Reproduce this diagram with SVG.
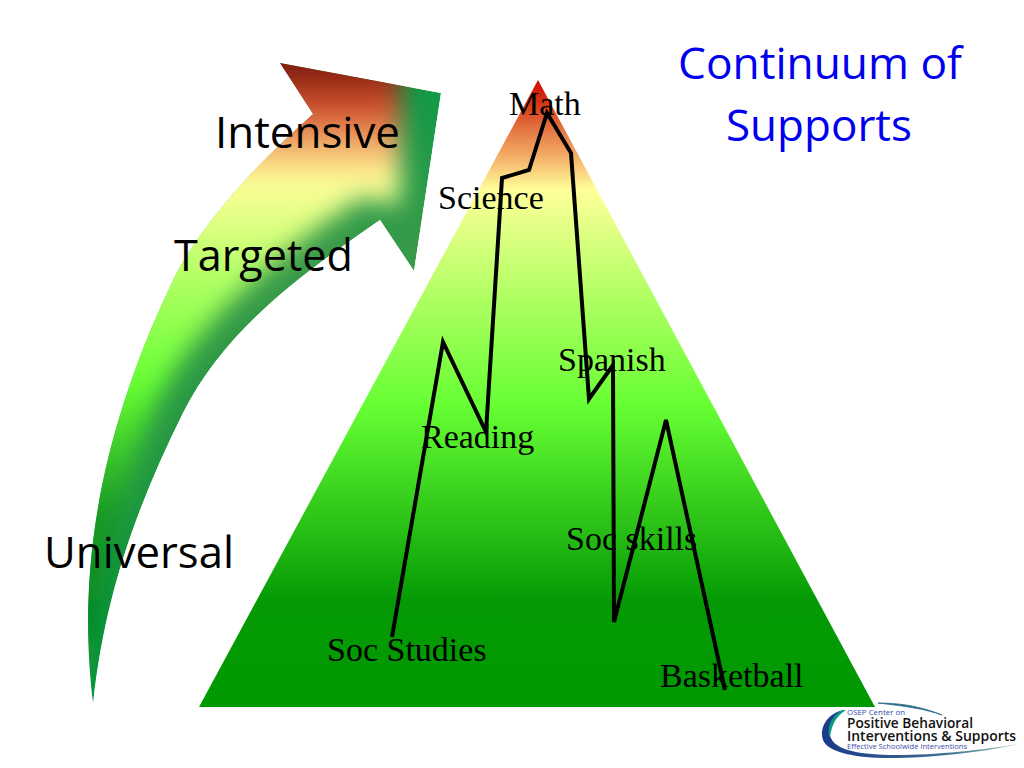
<svg xmlns="http://www.w3.org/2000/svg" width="1024" height="768" viewBox="0 0 1024 768">
<style>
.cal{font-family:"Open Sans","Noto Sans",sans-serif;fill:#000;font-size:43px}
.blue{fill:#0000ee;font-size:43px;font-family:"Open Sans","Noto Sans",sans-serif}
.lab{font-family:"Liberation Serif",serif;font-size:34px;fill:#000}
.logo{font-family:"Open Sans","Noto Sans",sans-serif}
</style>
<defs>
<linearGradient id="pyr" gradientUnits="userSpaceOnUse" x1="0" y1="80" x2="0" y2="707">
<stop offset="0" stop-color="#cc0a00"/>
<stop offset="0.04" stop-color="#d63a1a"/>
<stop offset="0.075" stop-color="#e2703f"/>
<stop offset="0.12" stop-color="#f3ab66"/>
<stop offset="0.175" stop-color="#ffff99"/>
<stop offset="0.30" stop-color="#c4ff70"/>
<stop offset="0.52" stop-color="#66ff33"/>
<stop offset="0.83" stop-color="#059a05"/>
<stop offset="1" stop-color="#009900"/>
</linearGradient>
<linearGradient id="arr" gradientUnits="userSpaceOnUse" x1="0" y1="63" x2="0" y2="704">
<stop offset="0" stop-color="#7a1608"/>
<stop offset="0.08" stop-color="#d85a34"/>
<stop offset="0.125" stop-color="#f0a868"/>
<stop offset="0.185" stop-color="#ffff99"/>
<stop offset="0.33" stop-color="#b4ff66"/>
<stop offset="0.50" stop-color="#66ff33"/>
<stop offset="0.70" stop-color="#189a22"/>
<stop offset="0.85" stop-color="#058a20"/>
<stop offset="1" stop-color="#0a9a40"/>
</linearGradient>
<linearGradient id="arrbase" gradientUnits="userSpaceOnUse" x1="0" y1="63" x2="0" y2="704">
<stop offset="0" stop-color="#0a9a48"/>
<stop offset="0.3" stop-color="#3a9a48"/>
<stop offset="1" stop-color="#0a9440"/>
</linearGradient>
<linearGradient id="swoosh" x1="0" y1="0" x2="1" y2="0">
<stop offset="0" stop-color="#1a3a8a"/>
<stop offset="0.6" stop-color="#3a6a90"/>
<stop offset="1" stop-color="#8ac0a0"/>
</linearGradient>
<filter id="soft" x="-30%" y="-30%" width="160%" height="160%"><feGaussianBlur stdDeviation="12"/></filter>
<path id="arrowShape" d="M93 704 C82 610 82 470 173 280 C200 225 255 165 313 114 L280 63 L441 93 L414 271 L380 220 C300 275 225 330 183 413 C140 500 105 590 93 704 Z"/>
<clipPath id="arrowClip"><use href="#arrowShape"/></clipPath>
</defs>
<rect width="1024" height="768" fill="#fff"/>
<g id="arrow">
<g clip-path="url(#arrowClip)">
<use href="#arrowShape" fill="url(#arrbase)"/>
<path filter="url(#soft)" fill="url(#arr)" d="M93 720 C30 600 30 470 130 270 C160 200 220 130 250 20 L402 20 L400 205 L362 198 C290 245 205 312 160 395 C122 480 95 590 93 720 Z"/>
</g>
</g>
<g id="pyramid">
<polygon points="538,80 875,707 199,707" fill="url(#pyr)"/>
</g>
<g id="connectors">
<polyline points="392,637 443,342 486,432 502,178 529,170 547,113 571,153 589,399 613,365 614,622 666,420 725,690" fill="none" stroke="#000" stroke-width="4"/>
</g>
<g id="level-intensive"><text class="cal" x="215" y="148" textLength="185" lengthAdjust="spacingAndGlyphs">Intensive</text></g>
<g id="level-targeted"><text class="cal" x="174" y="271" textLength="179" lengthAdjust="spacingAndGlyphs">Targeted</text></g>
<g id="level-universal"><text class="cal" x="44" y="568" textLength="190" lengthAdjust="spacingAndGlyphs">Universal</text></g>
<g id="title">
<text class="blue" x="678" y="79" textLength="284" lengthAdjust="spacingAndGlyphs">Continuum of</text>
<text class="blue" x="726" y="141" textLength="186" lengthAdjust="spacingAndGlyphs">Supports</text>
</g>
<g id="subject-math"><text class="lab" x="509" y="115">Math</text></g>
<g id="subject-science"><text class="lab" x="438" y="209">Science</text></g>
<g id="subject-spanish"><text class="lab" x="558" y="371">Spanish</text></g>
<g id="subject-reading"><text class="lab" x="421" y="448">Reading</text></g>
<g id="subject-socskills"><text class="lab" x="566" y="550">Soc skills</text></g>
<g id="subject-socstudies"><text class="lab" x="327" y="661">Soc Studies</text></g>
<g id="subject-basketball"><text class="lab" x="660" y="687">Basketball</text></g>
<g id="logo">
<path d="M878 703 C905 703 925 708 942 715 C925 709 905 706 878 703 Z" fill="#2a6a8a" stroke="#2a6a8a" stroke-width="0.8"/>
<path d="M843 710 C826 714 818 730 824 742 C830 753 860 759 897 758 C940 757 990 751 1018 744 C985 750 935 755 897 755 C860 755 838 750 832 740 C826 730 832 716 843 710 Z" fill="url(#swoosh)"/>
<path d="M843 710 C832 714 826 728 830 738 C831 726 836 716 846 710 Z" fill="#0a9a80"/>
<text class="logo" x="847" y="715" font-size="7" fill="#3a4aa8" textLength="58" lengthAdjust="spacingAndGlyphs">OSEP Center on</text>
<text class="logo" x="847" y="728" font-size="13.5" font-weight="600" fill="#111" textLength="126" lengthAdjust="spacingAndGlyphs">Positive Behavioral</text>
<text class="logo" x="847" y="740.5" font-size="13.5" font-weight="600" fill="#111" textLength="169" lengthAdjust="spacingAndGlyphs">Interventions &amp; Supports</text>
<text class="logo" x="847" y="749" font-size="6.5" fill="#3a4aa8" textLength="120" lengthAdjust="spacingAndGlyphs">Effective Schoolwide Interventions</text>
</g>
</svg>
